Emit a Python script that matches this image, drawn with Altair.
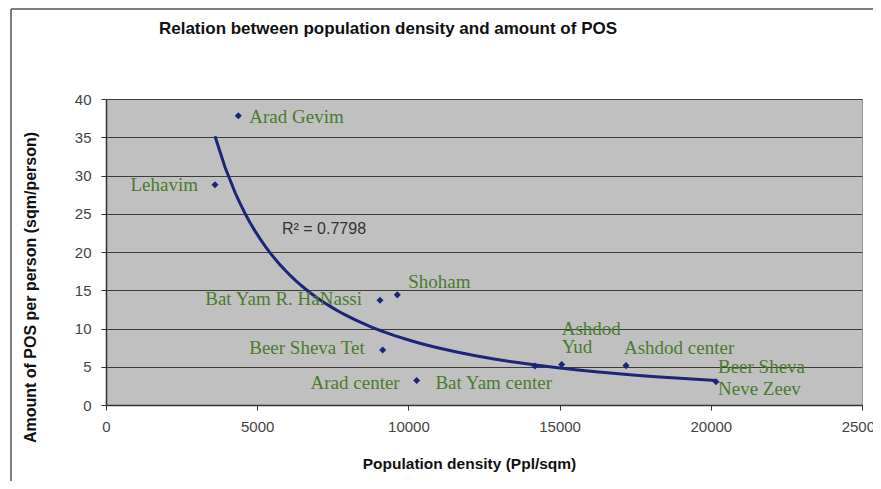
import altair as alt
import pandas as pd

# ---- data ----
names = ["Arad Gevim", "Lehavim", "Bat Yam R. HaNassi", "Shoham", "Beer Sheva Tet",
         "Arad center", "Bat Yam center", "Ashdod Yud", "Ashdod center", "Beer Sheva Neve Zeev"]
labels = ["Arad Gevim", "Lehavim", "Bat Yam R. HaNassi", "Shoham", "Beer Sheva Tet",
          "Arad center", "Bat Yam center", "Ashdod\nYud", "Ashdod center", "Beer Sheva\nNeve Zeev"]
density = [4375, 3605, 9061, 9633, 9150, 10274, 14187, 15069, 17196, 20172]
pos_per_person = [37.8, 28.8, 13.7, 14.4, 7.2, 3.2, 5.1, 5.3, 5.15, 3.05]
x_ticks = [0, 5000, 10000, 15000, 20000, 25000]
y_ticks = [0, 5, 10, 15, 20, 25, 30, 35, 40]
title_text = "Relation between population density and amount of POS"
r2_text = "R² = 0.7798"

df = pd.DataFrame({"name": names, "label": labels, "x": density, "y": pos_per_person})

# ---- styling ----
GREEN = "#4a7c2c"
NAVY = "#1c2679"
SANS = "Liberation Sans"
SERIF = "Liberation Serif"

# label placement (align, dx, dy, lineHeight)
placement = {
    "Arad Gevim": ("left", 11, 1, 20),
    "Lehavim": ("right", -17, 0, 20),
    "Bat Yam R. HaNassi": ("right", -18, -1, 20),
    "Shoham": ("left", 11, -13, 20),
    "Beer Sheva Tet": ("right", -18, -2, 20),
    "Arad center": ("right", -17, 2, 20),
    "Bat Yam center": ("right", 17, 17, 20),
    "Ashdod Yud": ("left", 0, -35, 18),
    "Ashdod center": ("left", -2, -18, 20),
    "Beer Sheva Neve Zeev": ("left", 2, -15, 22),
}

xscale = alt.Scale(domain=[0, 25000], nice=False, zero=True)
yscale = alt.Scale(domain=[0, 40], nice=False)

xenc = alt.X("x:Q", scale=xscale, axis=alt.Axis(
    values=x_ticks, grid=False, format="d", title="Population density (Ppl/sqm)",
    titleX=363, titleY=58, titleBaseline="middle", titleAnchor="middle", titleFontSize=15.5,
    labelFlush=False, labelPadding=9, tickSize=5))
yenc = alt.Y("y:Q", scale=yscale, axis=alt.Axis(
    values=y_ticks, grid=True, format="d", title="Amount of POS per person (sqm/person)",
    titleX=-76, titleY=188, titleAngle=270, titleBaseline="middle", titleAnchor="middle",
    titleFontSize=16, labelPadding=10, tickSize=5))

base = alt.Chart(df)

trend = base.transform_regression("x", "y", method="pow").mark_line(
    color=NAVY, strokeWidth=3).encode(x=xenc, y=yenc)

points = base.mark_point(shape="diamond", filled=True, size=50, color=NAVY, opacity=1).encode(x=xenc, y=yenc)

label_layers = []
for nm, (al, dx, dy, lh) in placement.items():
    label_layers.append(
        base.transform_filter(alt.datum.name == nm).mark_text(
            align=al, dx=dx, dy=dy, baseline="middle", font=SERIF, fontSize=19,
            color=GREEN, lineBreak="\n", lineHeight=lh
        ).encode(x=xenc, y=yenc, text="label:N")
    )

r2 = alt.Chart(pd.DataFrame({"t": [r2_text]})).mark_text(
    font=SANS, fontSize=16, color="#333333", align="center", baseline="middle"
).encode(text="t:N", x=alt.value(218), y=alt.value(130))

title = alt.Chart(pd.DataFrame({"t": [title_text]})).mark_text(
    font=SANS, fontSize=17, fontWeight="bold", color="#111111", align="center", baseline="middle"
).encode(text="t:N", x=alt.value(282), y=alt.value(-70))

frame_left = alt.Chart(pd.DataFrame({"a": [0]})).mark_rule(color="#555555", strokeWidth=1.5).encode(
    x=alt.value(-95), y=alt.value(-90), y2=alt.value(382))
frame_top = alt.Chart(pd.DataFrame({"a": [0]})).mark_rule(color="#555555", strokeWidth=1.5).encode(
    x=alt.value(-95), x2=alt.value(770), y=alt.value(-90))

chart = alt.layer(trend, points, *label_layers, r2, title, frame_left, frame_top).properties(
    width=756, height=306,
    background="white",
    autosize=alt.AutoSizeParams(type="none"),
    padding={"left": 98, "top": 91, "right": 11, "bottom": 76},
).configure_view(
    fill="#c0c0c0", stroke="#9a9a9a", strokeWidth=1
).configure_axis(
    labelFont=SANS, labelFontSize=15, labelColor="#444444",
    titleFont=SANS, titleFontSize=14, titleFontWeight="bold", titleColor="#111111",
    domainColor="#333333", domainWidth=1.5, tickColor="#333333",
    gridColor="#3c3c3c", gridWidth=1, gridOpacity=1
)

chart.save("out.html", embed_options={"renderer": "svg", "actions": False})
